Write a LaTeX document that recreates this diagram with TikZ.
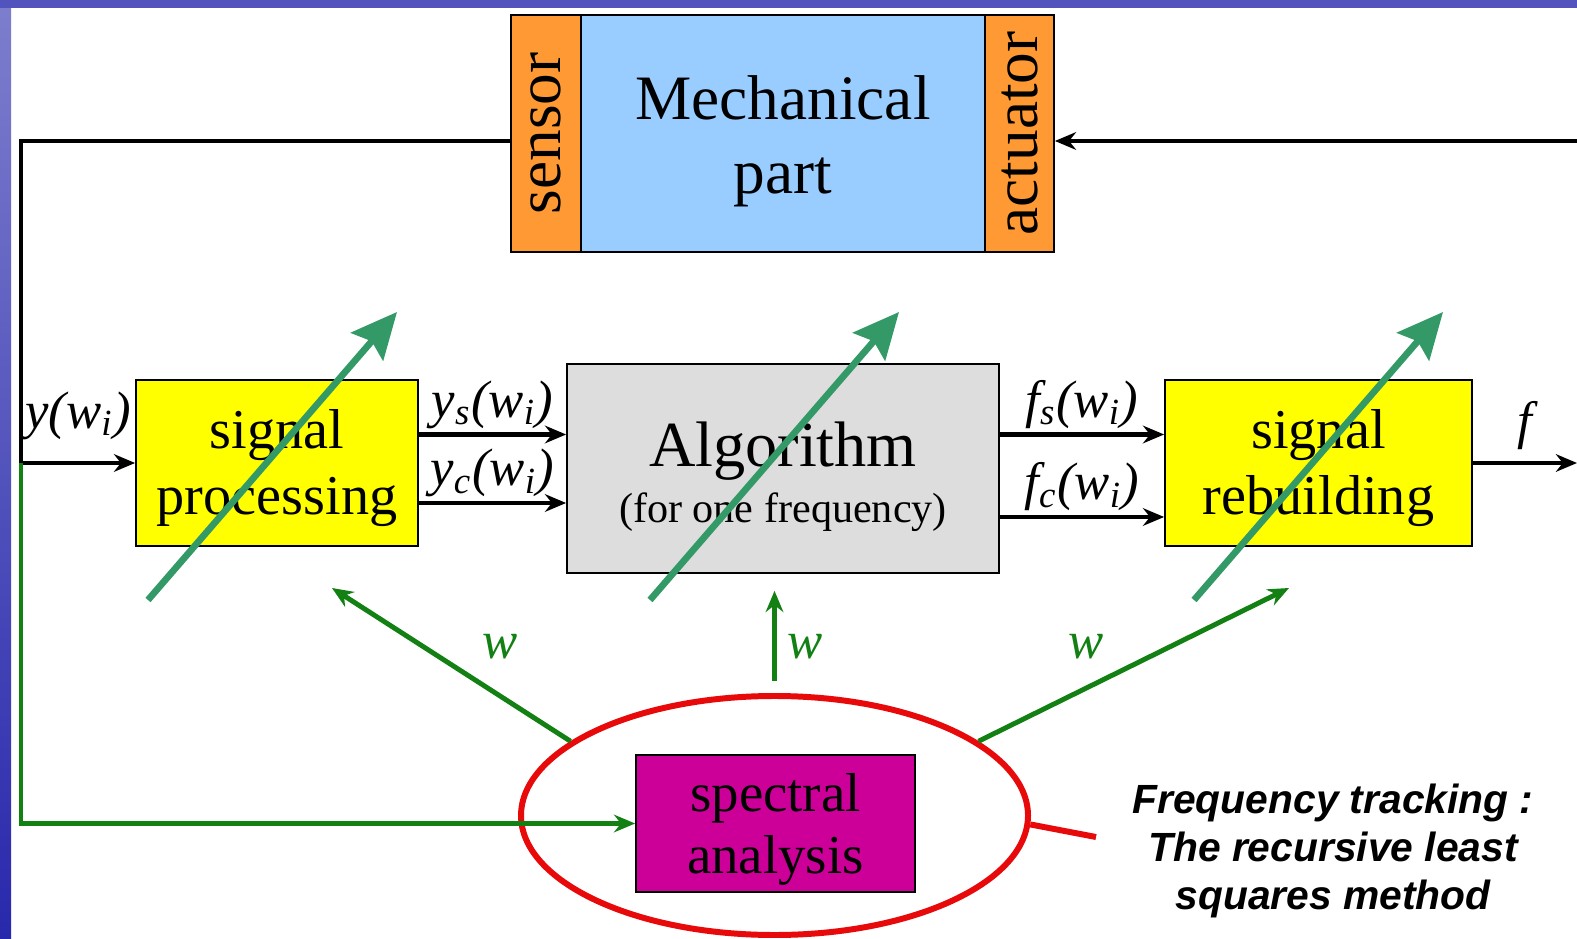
\documentclass[tikz,border=0pt]{standalone}
\usepackage{fontspec}
\setmainfont{Liberation Serif}
\newfontfamily\notefont{Liberation Sans}
\usepackage{xcolor}
\usepackage{tikz}
\usetikzlibrary{arrows.meta,calc,positioning,shapes.geometric}
\definecolor{orc}{RGB}{255,153,51}
\definecolor{mec}{RGB}{153,204,255}
\definecolor{ylc}{RGB}{255,255,0}
\definecolor{alc}{RGB}{221,221,221}
\definecolor{spc}{RGB}{204,0,153}
\definecolor{tnc}{RGB}{51,153,102}
\definecolor{wgc}{RGB}{18,128,18}
\definecolor{elc}{RGB}{232,10,10}
\definecolor{sbc}{RGB}{40,40,172}
\newcommand{\fsz}[2]{\fontsize{#1}{#2}\selectfont}
\newcommand{\sbs}[1]{\textsubscript{#1}}

\begin{document}
\begin{tikzpicture}[>={Stealth[length=6pt,width=5pt]},
  blk/.style={draw,line width=0.5pt,minimum width=2.82cm,minimum height=1.66cm,inner sep=0pt},
  txt/.style={align=center,inner sep=0pt},
  sig/.style={line width=1.4pt,->},
  wsig/.style={wgc,line width=1.4pt,->},
  tune/.style={tnc,line width=1.9pt,-{Stealth[length=13pt,width=12pt,inset=2pt]}},
  lab/.style={font={\fsz{15}{17}\itshape},inner sep=1pt}]
  \useasboundingbox (0,0) rectangle (15.77,9.38);
  \fill[white] (0,0) rectangle (15.77,9.38);
  \shade[top color=sbc!60!white,middle color=sbc,bottom color=sbc] (0,0) rectangle (0.11,9.38);
  \fill[sbc!80!white] (0,9.30) rectangle (15.77,9.38);

  % mechanical part with sensor and actuator
  \node[draw,line width=0.5pt,fill=mec,minimum width=4.04cm,minimum height=2.37cm] (mech) at (7.83,8.045) {};
  \node[txt,font={\fsz{18}{21}}] (mecht) at ([yshift=-0.08cm]mech.center) {Mechanical\\part};
  \node[draw,line width=0.5pt,fill=orc,rotate=90,minimum width=2.37cm,minimum height=0.70cm,font={\fsz{18}{20}}] (sen) at (5.46,8.045) {sensor};
  \node[draw,line width=0.5pt,fill=orc,rotate=90,minimum width=2.37cm,minimum height=0.69cm,font={\fsz{18}{20}}] (act) at (10.195,8.045) {actuator};

  % blocks
  \node[blk,fill=ylc] (sp) at (2.77,4.75) {};
  \node[txt,font={\fsz{16}{18.6}}] (spt) at ([yshift=-0.05cm]sp.center) {signal\\processing};
  \node[blk,fill=alc,minimum width=4.32cm,minimum height=2.09cm] (alg) at (7.83,4.695) {};
  \node[txt,font={\fsz{18.3}{16}}] (algt) at ([yshift=-0.08cm]alg.center) {Algorithm\\{\fsz{12}{15.7}(for one frequency)}};
  \node[blk,fill=ylc,minimum width=3.07cm] (sr) at (13.185,4.75) {};
  \node[txt,font={\fsz{16}{18.6}}] (srt) at ([yshift=-0.05cm]sr.center) {signal\\rebuilding};
  \node[blk,fill=spc,minimum width=2.79cm,minimum height=1.37cm] (spa) at (7.755,1.145) {};
  \node[txt,font={\fsz{15.6}{17.7}}] (spat) at ([yshift=-0.06cm]spa.center) {spectral\\analysis};
  \node[draw=elc,line width=1.7pt,ellipse,minimum width=5.07cm,minimum height=2.39cm,inner sep=0pt] (ell) at (7.745,1.225) {};

  % loop
  \coordinate (tl) at (0.21,7.97);
  \coordinate (jn) at (0.21,4.75);
  \coordinate (fb) at (15.77,7.97);
  \coordinate (out) at (15.77,4.75);
  \draw[line width=1.4pt] (sen.north |- tl) -- (tl) -- (jn);
  \draw[sig] (jn) -- node[lab,above,yshift=5pt] (ylab) {y(w\sbs{i})} (sp.west);
  \draw[wsig] (jn) |- (spa.west);
  \draw[sig] (fb) -- (act.south |- fb);
  \draw[sig] ($(sp.east)+(0,0.285)$) -- node[lab,above] (yslab) {y\sbs{s}(w\sbs{i})} ($(alg.west)+(0,0.34)$);
  \draw[sig] ($(sp.east)+(0,-0.40)$) -- node[lab,above] (yclab) {y\sbs{c}(w\sbs{i})} ($(alg.west)+(0,-0.345)$);
  \draw[sig] ($(alg.east)+(0,0.34)$) -- node[lab,above] (fslab) {f\sbs{s}(w\sbs{i})} ($(sr.west)+(0,0.285)$);
  \draw[sig] ($(alg.east)+(0,-0.485)$) -- node[lab,above] (fclab) {f\sbs{c}(w\sbs{i})} ($(sr.west)+(0,-0.54)$);
  \draw[sig] (sr.east) -- node[lab,above,yshift=2pt] (flab) {f} (out);

  % frequency w from the spectral analysis
  \coordinate (wl) at (3.32,3.50);
  \coordinate (wr) at (12.89,3.50);
  \draw[wsig] (ell.160) -- (wl);
  \draw[wsig,shorten <=0.12cm,shorten >=0.17cm] (ell.north) -- (ell.north |- alg.south);
  \draw[wsig] (ell.20) -- (wr);
  \node[lab,text=wgc] (wl1) at (5.0,2.91) {w};
  \node[lab,text=wgc] (wl2) at (8.05,2.91) {w};
  \node[lab,text=wgc] (wl3) at (10.86,2.91) {w};

  % adjustable blocks
  \foreach \x in {1.48,6.50,11.94} \draw[tune] (\x,3.38) -- ++(2.49,2.88);

  % note
  \node[font={\notefont\bfseries\itshape\fsz{11.6}{13.6}},align=center] (note) at (13.33,0.87) {Frequency tracking :\\The recursive least\\squares method};
  \coordinate (pt) at (10.96,1.01);
  \draw[elc,line width=1.7pt] (ell.-2) -- (pt);
\end{tikzpicture}
\end{document}
